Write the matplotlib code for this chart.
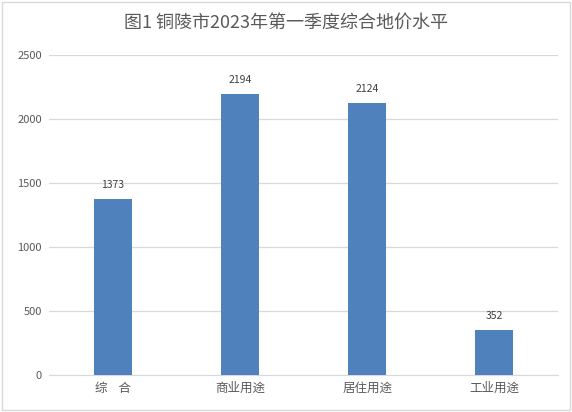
import matplotlib
matplotlib.use("Agg")
import matplotlib.pyplot as plt
from matplotlib.patches import Rectangle

plt.rcParams["font.family"] = ["Noto Sans CJK SC", "DejaVu Sans"]

categories = ["综    合", "商业用途", "居住用途", "工业用途"]
values = [1373, 2194, 2124, 352]
yticks = [0, 500, 1000, 1500, 2000, 2500]
title = "图1 铜陵市2023年第一季度综合地价水平"

text_color = "#595959"
grid_color = "#D9D9D9"
bar_color = "#4F81BD"

fig = plt.figure(figsize=(5.72, 4.12), dpi=100)
fig.patches.append(Rectangle((0.003, 0.004), 0.994, 0.992, transform=fig.transFigure,
                             fill=False, edgecolor="#D9D9D9", linewidth=1.0))
ax = fig.add_axes([0.0857, 0.0898, 0.8898, 0.7767])

x = list(range(len(categories)))
bars = ax.bar(x, values, width=0.3, color=bar_color, zorder=3)
for b, v in zip(bars, values):
    ax.text(b.get_x() + b.get_width() / 2, v + 70, f"{v}", ha="center", va="bottom",
            fontsize=7.5, color="#404040")

ax.set_xlim(-0.5, len(categories) - 0.5)
ax.set_ylim(0, 2500)
ax.set_yticks(yticks)
ax.set_yticklabels([str(t) for t in yticks], fontsize=8, color=text_color)
ax.set_xticks(x)
ax.set_xticklabels(categories, fontsize=9, color=text_color)
ax.tick_params(axis="both", length=0)
ax.tick_params(axis="y", pad=5)
ax.tick_params(axis="x", pad=5)
ax.grid(axis="y", color=grid_color, linewidth=0.9, zorder=0)
for s in ["top", "right", "left"]:
    ax.spines[s].set_visible(False)
ax.spines["bottom"].set_color(grid_color)

fig.text(0.5, 0.945, title, ha="center", va="center", fontsize=13, color=text_color)

fig.savefig("out.png", dpi=100)
